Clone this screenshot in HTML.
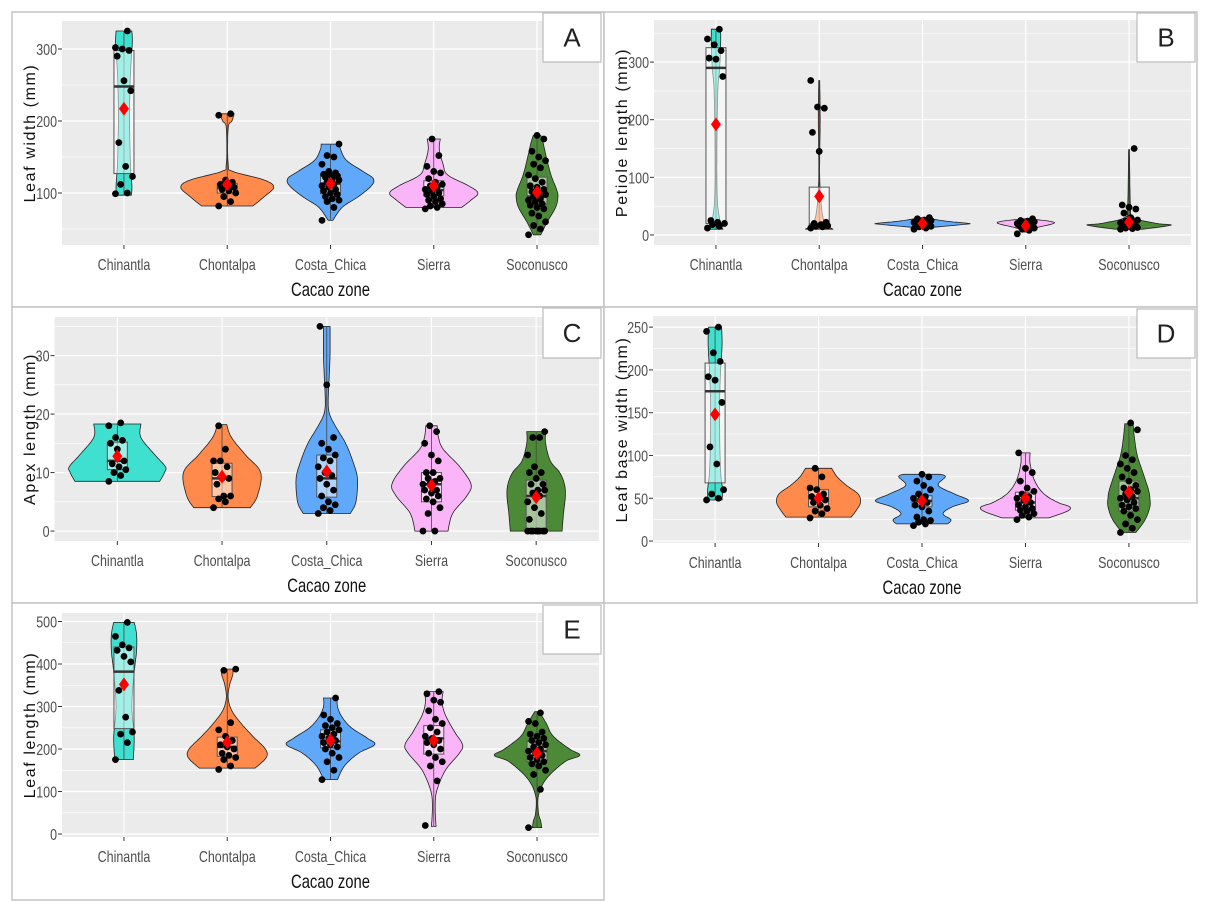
<!DOCTYPE html>
<html><head><meta charset="utf-8">
<style>
html,body{margin:0;padding:0;background:#fff;}
svg{display:block;}
.tick{font-family:"Liberation Sans",sans-serif;font-size:16px;fill:#4d4d4d;}
.xt{font-family:"Liberation Sans",sans-serif;font-size:16px;fill:#4d4d4d;}
.xtitle{font-family:"Liberation Sans",sans-serif;font-size:19px;fill:#111;}
.ytitle{font-family:"Liberation Sans",sans-serif;font-size:16px;fill:#111;letter-spacing:1.6px;}
.tag{font-family:"Liberation Sans",sans-serif;font-size:26px;fill:#222;}
</style></head>
<body>
<svg id="fig" width="1205" height="914" viewBox="0 0 1205 914" xmlns="http://www.w3.org/2000/svg"></svg>
<script>
const categories = ["Chinantla","Chontalpa","Costa_Chica","Sierra","Soconusco"];
const colors = ["#40E0D0","#FF8A4B","#5FA8FA","#FAB4F8","#4C8A38"];

// Panel A: Leaf width
const aTicks = [100,200,300];
const aViolins = [
 [[97,0.16],[110,0.17],[140,0.14],[200,0.12],[250,0.13],[290,0.16],[310,0.18],[325,0.17]],
 [[82,0.55],[95,0.8],[108,1.0],[118,0.8],[130,0.12],[140,0.02],[190,0.02],[200,0.1],[210,0.15]],
 [[62,0.05],[80,0.25],[95,0.6],[110,0.88],[120,0.92],[130,0.7],[145,0.35],[160,0.22],[168,0.2]],
 [[80,0.6],[90,0.8],[100,0.95],[110,0.75],[125,0.3],[140,0.2],[160,0.12],[175,0.14]],
 [[42,0.08],[60,0.22],[80,0.4],[95,0.45],[105,0.42],[125,0.3],[150,0.2],[170,0.13],[180,0.08]]];
const aBoxes = [[127,248,298],[100,107,113],[99,113,125],[96,104,117],[85,95,122]];
const aMeans = [217,112,113,110,101];
const aPoints = [
 [99,100,112,123,137,170,242,256,290,298,300,302,325],
 [82,88,95,100,103,105,108,110,112,115,118,208,210],
 [62,80,88,90,92,95,98,100,103,105,108,110,112,115,118,120,122,124,125,126,128,130,140,150,152,168],
 [78,80,82,85,88,90,92,95,98,100,102,105,108,110,112,115,120,128,130,137,152,175],
 [42,50,55,60,68,72,78,80,83,85,88,90,92,95,98,100,102,105,108,110,115,120,125,135,140,145,150,158,175,180]];

// Panel B: Petiole length
const bTicks = [0,100,200,300];
const bViolins = [
 [[10,0.15],[20,0.1],[60,0.03],[150,0.02],[250,0.04],[290,0.08],[330,0.1],[357,0.1]],
 [[10,0.3],[18,0.15],[40,0.06],[100,0.01],[200,0.02],[268,0.01]],
 [[12,0.05],[18,0.85],[20,1.0],[24,0.5],[30,0.05]],
 [[5,0.02],[12,0.2],[20,0.6],[24,0.5],[28,0.05]],
 [[10,0.3],[17,0.9],[20,0.6],[30,0.1],[50,0.03],[148,0.01]]];
const bBoxes = [[20,290,325],[15,18,83],[15,19,22],[12,17,21],[13,16,20]];
const bMeans = [192,67,20,16,22];
const bPoints = [
 [12,15,18,20,22,25,275,305,307,320,330,340,357],
 [12,14,15,16,18,20,22,145,178,220,222,268],
 [10,12,14,15,16,17,18,19,20,20,21,22,23,24,25,26,28,30],
 [2,8,10,12,13,14,15,16,17,18,19,20,21,22,23,24,25,28],
 [10,11,12,13,14,15,16,17,18,19,20,21,22,24,26,30,38,45,48,52,150]];

// Panel C: Apex length
const cTicks = [0,10,20,30];
const cViolins = [
 [[8.5,0.9],[10,1.0],[11,1.02],[13,0.8],[16,0.5],[18.3,0.5]],
 [[4,0.6],[6,0.75],[10,0.82],[13,0.5],[16,0.2],[18.2,0.1]],
 [[3,0.5],[5,0.62],[9,0.65],[12,0.55],[15,0.4],[18,0.18],[20,0.06],[22,0.03],[26,0.05],[30,0.07],[35,0.07]],
 [[0,0.35],[3,0.45],[6,0.75],[8,0.84],[11,0.6],[14,0.25],[16,0.15],[18,0.12]],
 [[0,0.55],[3,0.58],[6,0.62],[8,0.6],[10,0.5],[12,0.3],[15,0.2],[17,0.2]]];
const cBoxes = [[10.5,12,15.2],[5.9,9,11.6],[5.8,9,13],[5,8,10],[0,6,8.7]];
const cMeans = [12.8,9.3,10.2,7.8,5.8];
const cPoints = [
 [8.5,9.5,10,10.5,11,11.5,12,14,15,15.5,16,18,18.5],
 [4,5,5.5,6,6,8,9,9,10,11,12,12,14,18],
 [3,3.5,4,4.5,5,6,7,8,9,9.5,10,11,12,12.5,13,14,15,16,25,35],
 [0,0,3,4,5,5.5,6,6.5,7,7,8,8,8.5,9,9,10,10,12,13,15,17,18],
 [0,0,0,0,0,0,0,0,2,3,4,5,6,6.5,7,7,8,8,9,10,10,11,13,16,16,17]];

// Panel D: Leaf base width
const dTicks = [0,50,100,150,200,250];
const dViolins = [
 [[48,0.15],[60,0.16],[80,0.12],[120,0.1],[170,0.1],[200,0.12],[230,0.15],[250,0.14]],
 [[28,0.7],[35,0.8],[45,0.9],[55,0.85],[65,0.6],[75,0.4],[85,0.28]],
 [[20,0.55],[25,0.62],[32,0.45],[40,0.65],[47,1.0],[55,0.7],[65,0.35],[75,0.5],[78,0.4]],
 [[27,0.5],[35,0.9],[40,0.95],[45,0.7],[55,0.4],[70,0.2],[90,0.1],[103,0.1]],
 [[10,0.15],[25,0.35],[40,0.45],[50,0.45],[60,0.42],[80,0.3],[100,0.18],[120,0.12],[137,0.09]]];
const dBoxes = [[68,175,208],[40,50,60],[40,47,53],[36,45,57],[35,50,70]];
const dMeans = [148,50,47,50,57];
const dPoints = [
 [48,50,55,60,90,110,162,188,192,210,220,245,250],
 [27,32,35,38,42,45,48,50,52,55,60,62,75,85],
 [18,20,22,24,25,28,35,40,42,45,48,50,52,55,60,65,70,75,78],
 [25,28,30,32,35,36,38,40,42,45,48,50,52,55,58,62,70,80,85,103],
 [10,15,20,25,30,35,38,40,42,45,48,50,52,55,58,60,62,65,70,75,80,85,90,95,100,130,138]];

// Panel E: Leaf length
const eTicks = [0,100,200,300,400,500];
const eViolins = [
 [[175,0.2],[230,0.22],[300,0.17],[380,0.22],[430,0.27],[470,0.27],[498,0.22]],
 [[155,0.6],[180,0.84],[200,0.82],[230,0.55],[260,0.3],[290,0.1],[320,0.02],[350,0.05],[375,0.12],[388,0.12]],
 [[128,0.15],[160,0.3],[190,0.6],[210,0.95],[225,0.8],[250,0.45],[275,0.25],[300,0.15],[320,0.15]],
 [[18,0.05],[60,0.03],[100,0.06],[150,0.25],[190,0.55],[210,0.62],[240,0.45],[280,0.25],[310,0.18],[335,0.2]],
 [[15,0.1],[30,0.08],[50,0.03],[90,0.03],[130,0.2],[170,0.6],[185,0.92],[200,0.7],[230,0.35],[260,0.2],[288,0.05]]];
const eBoxes = [[248,382,440],[183,205,228],[203,218,245],[188,225,255],[170,195,218]];
const eMeans = [352,216,220,220,190];
const ePoints = [
 [175,215,235,240,275,338,405,418,432,438,445,465,498],
 [152,160,175,180,185,190,200,205,210,220,230,245,262,385,388],
 [128,150,170,180,190,200,205,210,215,220,225,230,235,240,245,250,255,260,270,280,320],
 [20,125,160,170,180,190,200,210,215,220,225,230,240,250,260,270,290,310,315,330,335],
 [15,105,140,150,160,165,170,175,180,185,190,195,200,205,210,215,220,225,230,235,240,260,265,285]];

const panels = [
 {tag:"A", fx:12,fy:12,fw:592,fh:295, l:62,r:599,t:21,b:245, lo:27.8,hi:338.9, ticks:aTicks, ytitle:"Leaf width (mm)", v:aViolins, box:aBoxes, mean:aMeans, pts:aPoints, tagBox:[543,13,58,49]},
 {tag:"B", fx:604,fy:12,fw:593,fh:295, l:654,r:1191,t:20,b:245, lo:-17.4,hi:373, ticks:bTicks, ytitle:"Petiole length (mm)", v:bViolins, box:bBoxes, mean:bMeans, pts:bPoints, tagBox:[1137,13,58,49]},
 {tag:"C", fx:12,fy:307,fw:592,fh:296, l:54.5,r:599,t:317,b:541, lo:-1.7,hi:36.6, ticks:cTicks, ytitle:"Apex length (mm)", v:cViolins, box:cBoxes, mean:cMeans, pts:cPoints, tagBox:[543,308,58,50]},
 {tag:"D", fx:604,fy:307,fw:593,fh:296, l:653,r:1191,t:316,b:543, lo:-2.3,hi:263, ticks:dTicks, ytitle:"Leaf base width (mm)", v:dViolins, box:dBoxes, mean:dMeans, pts:dPoints, tagBox:[1137,309,58,49]},
 {tag:"E", fx:12,fy:603,fw:592,fh:297, l:62,r:599,t:613,b:837, lo:-7,hi:520, ticks:eTicks, ytitle:"Leaf length (mm)", v:eViolins, box:eBoxes, mean:eMeans, pts:ePoints, tagBox:[543,605,58,49]}
];

const NS="http://www.w3.org/2000/svg";
const svg=document.getElementById("fig");
function mk(tag, attrs, parent){const e=document.createElementNS(NS,tag);for(const k in attrs)e.setAttribute(k,attrs[k]);(parent||svg).appendChild(e);return e;}
const SX=0.78;

function violinPath(prof, cx, ys, hw){
  const pts=[];
  for(let i=0;i<prof.length-1;i++){
    const p0=prof[Math.max(0,i-1)],p1=prof[i],p2=prof[i+1],p3=prof[Math.min(prof.length-1,i+2)];
    for(let s=0;s<10;s++){
      const t=s/10,t2=t*t,t3=t2*t;
      const f=(a,b,c,d)=>0.5*((2*b)+(-a+c)*t+(2*a-5*b+4*c-d)*t2+(-a+3*b-3*c+d)*t3);
      pts.push([f(p0[0],p1[0],p2[0],p3[0]),Math.max(0.005,f(p0[1],p1[1],p2[1],p3[1]))]);
    }
  }
  pts.push(prof[prof.length-1]);
  let d="";
  pts.forEach((p,i)=>{d+=(i?"L":"M")+(cx+p[1]*hw).toFixed(1)+","+ys(p[0]).toFixed(1);});
  for(let i=pts.length-1;i>=0;i--){const p=pts[i];d+="L"+(cx-p[1]*hw).toFixed(1)+","+ys(p[0]).toFixed(1);}
  return d+"Z";
}

panels.forEach(P=>{
  const g=mk("g",{});
  
  
  const ys=v=>P.b-(v-P.lo)/(P.hi-P.lo)*(P.b-P.t);
  const step=(P.r-P.l)/5.2;
  const xs=i=>P.l+step*(0.6+i);
  const hw=step*0.45;
  const frame=mk("rect",{x:P.fx,y:P.fy,width:P.fw,height:P.fh,fill:"#fff",stroke:"#c3c3c3","stroke-width":1.5},g);
  
  
  const bg=mk("rect",{x:P.l,y:P.t,width:P.r-P.l,height:P.b-P.t,fill:"#EBEBEB"},g);
  
  
  const tstep=P.ticks[1]-P.ticks[0];
  for(let v=P.ticks[0]-tstep/2; v<=P.hi; v+=tstep){
    if(v<P.lo) continue;
    mk("line",{x1:P.l,x2:P.r,y1:ys(v),y2:ys(v),stroke:"#fff","stroke-width":0.6},g);
  }
  P.ticks.forEach(v=>{
    mk("line",{x1:P.l,x2:P.r,y1:ys(v),y2:ys(v),stroke:"#fff","stroke-width":1.2},g);
    mk("line",{x1:P.l-4,x2:P.l,y1:ys(v),y2:ys(v),stroke:"#333","stroke-width":1},g);
    const t=mk("text",{x:0,y:0,"text-anchor":"end",class:"tick",transform:`translate(${P.l-5},${ys(v)+6}) scale(${SX},1)`},g);
    t.textContent=v;
    
    
  });
  categories.forEach((c,i)=>{
    mk("line",{x1:xs(i),x2:xs(i),y1:P.t,y2:P.b,stroke:"#fff","stroke-width":1.2},g);
    mk("line",{x1:xs(i),x2:xs(i),y1:P.b,y2:P.b+4,stroke:"#333","stroke-width":1},g);
    const t=mk("text",{x:0,y:0,"text-anchor":"middle",class:"xt",transform:`translate(${xs(i)},${P.b+25}) scale(${SX},1)`},g);
    t.textContent=c;
    
    
  });
  const xt=mk("text",{x:0,y:0,"text-anchor":"middle",class:"xtitle",transform:`translate(${(P.l+P.r)/2},${P.b+51}) scale(${SX},1)`},g);
  xt.textContent="Cacao zone";
  
  
  const yc=(P.t+P.b)/2, yx=P.fx+23;
  const yt=mk("text",{x:yx,y:yc,"text-anchor":"middle",class:"ytitle",transform:`rotate(-90 ${yx} ${yc})`},g);
  yt.textContent=P.ytitle;
  
  

  categories.forEach((c,i)=>{
    const cx=xs(i);
    const prof=P.v[i];
    const vp=mk("path",{d:violinPath(prof,cx,ys,hw),fill:colors[i],stroke:"#222","stroke-width":0.8},g);
    
    
    const lo=prof[0][0],hi=prof[prof.length-1][0];
    mk("line",{x1:cx,x2:cx,y1:ys(lo),y2:ys(hi),stroke:"#444","stroke-width":0.8},g);
    const [q1,md,q3]=P.box[i];
    const bx=mk("rect",{x:cx-10,y:ys(q3),width:20,height:Math.max(0.5,ys(q1)-ys(q3)),fill:"rgba(255,255,255,0.5)",stroke:"#555","stroke-width":1},g);
    
    
    mk("line",{x1:cx-10,x2:cx+10,y1:ys(md),y2:ys(md),stroke:"#333","stroke-width":2.5},g);
    P.pts[i].forEach((v,j)=>{
      const jx=((j*7)%11-5)*1.7;
      const d=mk("circle",{cx:cx+jx,cy:ys(v),r:3.4,fill:"#000"},g);
      
      
    });
    const my=ys(P.mean[i]);
    const m=mk("path",{d:`M${cx},${my-7}L${cx+5},${my}L${cx},${my+7}L${cx-5},${my}Z`,fill:"#FF0000"},g);
    
    
  });
  const [tx,ty,tw,th]=P.tagBox;
  const tb=mk("rect",{x:tx,y:ty,width:tw,height:th,fill:"#fff",stroke:"#bbb","stroke-width":1.2},g);
  
  
  const tt=mk("text",{x:tx+tw/2,y:ty+th/2+9,"text-anchor":"middle",class:"tag"},g);
  tt.textContent=P.tag;
  
  
});
</script>
</body></html>
